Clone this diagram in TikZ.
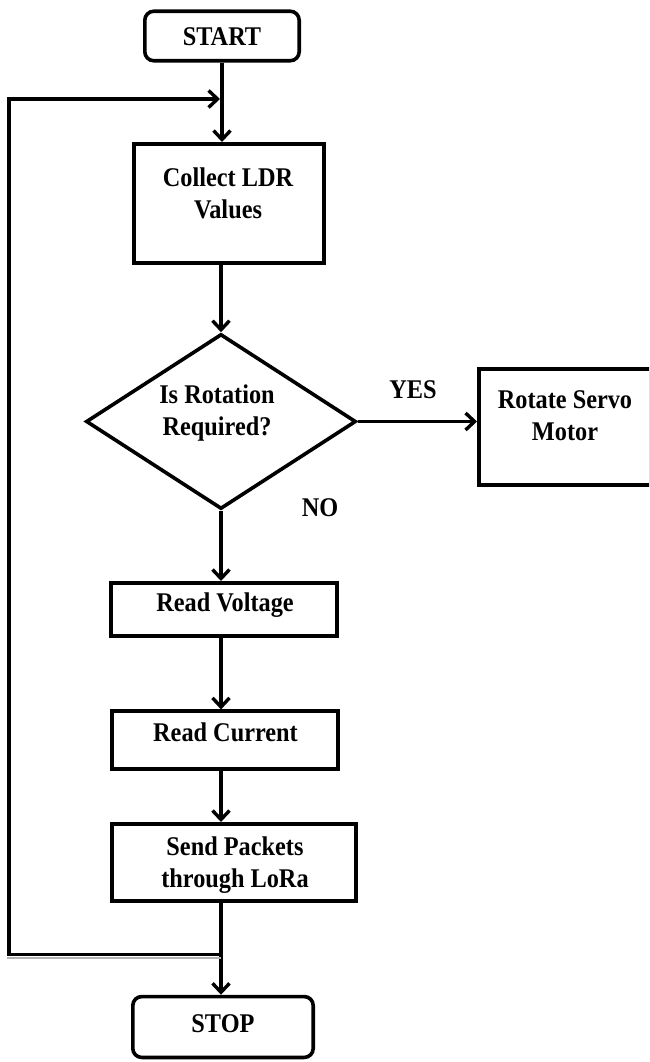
\documentclass[tikz,border=0pt]{standalone}
\usepackage{fontspec}
\setmainfont{Liberation Serif}[FakeStretch=0.9]
\usetikzlibrary{shapes.geometric,arrows.meta}
\tikzset{
  lw/.style={line width=3.6pt},
  boxnode/.style={draw,lw,rectangle,inner sep=0pt},
  termnode/.style={draw,lw,rectangle,rounded corners=9pt,inner sep=0pt},
  decnode/.style={draw,lw,diamond,inner sep=0pt,aspect=1.55},
  txt/.style={font=\fontsize{27}{32}\selectfont\bfseries,align=center,inner sep=0pt},
  arr/.style={lw,-{Straight Barb[length=9pt,width=17pt,line width=3.4pt]}},
}
\begin{document}
\begin{tikzpicture}[x=1pt,y=-1pt]
\useasboundingbox (0,0) rectangle (649,1062);
\clip (0,0) rectangle (649,1062);
\fill[white] (0,0) rectangle (649,1062);
% shapes
\node[termnode,minimum width=154.4pt,minimum height=49.5pt] (start) at (222,36) {};
\node[boxnode,minimum width=190.4pt,minimum height=119.4pt] (collect) at (229,203.5) {};
\node[decnode,minimum width=270pt,minimum height=175pt] (dia) at (221,421.5) {};
\node[boxnode,minimum width=172.4pt,minimum height=116.4pt] (rotate) at (565,427) {};
\node[boxnode,minimum width=226.4pt,minimum height=53.4pt] (volt) at (224,609.5) {};
\node[boxnode,minimum width=226.4pt,minimum height=57.6pt] (curr) at (225,740) {};
\node[boxnode,minimum width=244.4pt,minimum height=77.4pt] (send) at (234,862.5) {};
\node[termnode,minimum width=180.4pt,minimum height=60.9pt] (stop) at (223,1027) {};
% texts
\node[txt] (startT) at (222,37) {START};
\node[txt] (collectT) at (228,193) {Collect LDR\\Values};
\node[txt] (diaT) at (217,413) {Is Rotation\\Required?};
\node[txt] (rotateT) at (565,416) {Rotate Servo\\Motor};
\node[txt] (voltT) at (225,605) {Read Voltage};
\node[txt] (currT) at (225.5,732.5) {Read Current};
\node[txt] (sendT) at (235,865) {Send Packets\\through LoRa};
\node[txt] (stopT) at (223,1024) {STOP};
\node[txt] (yes) at (413,390) {YES};
\node[txt] (no) at (320,508) {NO};
% connectors
\draw[arr] (start.south) -- (start.south |- collect.north);
\draw[arr] (dia.north |- collect.south) -- (dia.north);
\draw[arr] (dia.east) -- (dia.east -| rotate.west);
\draw[arr] (dia.south) -- (dia.south |- volt.north);
\draw[arr] (dia.south |- volt.south) -- (dia.south |- curr.north);
\draw[arr] (dia.south |- curr.south) -- (dia.south |- send.north);
\draw[arr] (dia.south |- send.south) -- (dia.south |- stop.north);
% loop back
\coordinate (lb) at (221,954.5);
\coordinate (lbl) at (9,954.5);
\coordinate (ltl) at (9,99);
\coordinate (lt) at (220,99);
\draw[gray!60,line width=2.4pt] (7,957.8) -- (221,957.8);
\draw[arr] (lb) -- (lbl) -- (ltl) -- (lt);
\end{tikzpicture}
\end{document}
